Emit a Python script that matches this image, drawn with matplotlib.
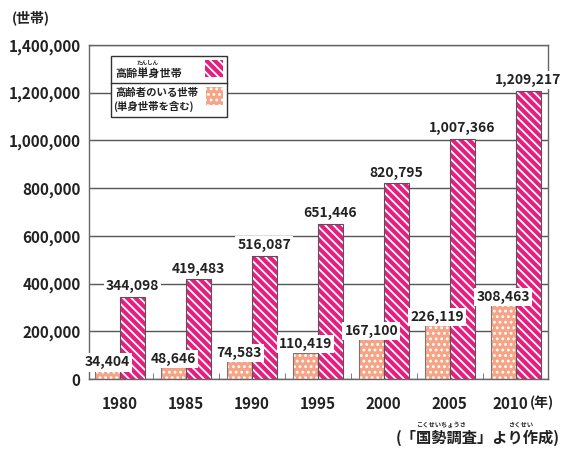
import matplotlib
matplotlib.use('Agg')
import matplotlib.pyplot as plt
import matplotlib.transforms as mtransforms
from matplotlib.patches import Rectangle
import numpy as np

years = ['1980', '1985', '1990', '1995', '2000', '2005', '2010']
single_households = [344098, 419483, 516087, 651446, 820795, 1007366, 1209217]
elderly_households = [34404, 48646, 74583, 110419, 167100, 226119, 308463]
yticks = [0, 200000, 400000, 600000, 800000, 1000000, 1200000, 1400000]
ytick_labels = ['0', '200,000', '400,000', '600,000', '800,000', '1,000,000', '1,200,000', '1,400,000']

PINK = '#E61E80'
ORANGE = '#F7A385'
FONT = ['Noto Sans CJK JP', 'DejaVu Sans']
TXT = '#222222'

plt.rcParams['font.family'] = FONT
plt.rcParams['hatch.linewidth'] = 1.3

STRIPES = '\\\\\\\\'
DOTS = '...'

W, H = 562, 450
fig = plt.figure(figsize=(W / 100, H / 100), dpi=100)
ax = fig.add_axes([89 / W, 1 - 379 / H, (548 - 89) / W, (379 - 45) / H])

x = np.arange(len(years))
w = 0.38
ax.bar(x - w / 2, elderly_households, w, color=ORANGE, edgecolor='white', hatch=DOTS, linewidth=0, zorder=2)
ax.bar(x - w / 2, elderly_households, w, fill=False, edgecolor='#777777', linewidth=0.8, zorder=3)
ax.bar(x + w / 2, single_households, w, color=PINK, edgecolor='white', hatch=STRIPES, linewidth=0, zorder=2)
ax.bar(x + w / 2, single_households, w, fill=False, edgecolor='#555555', linewidth=0.8, zorder=3)

for xi, v in zip(x, single_households):
    ax.annotate(f'{v:,}', (xi + w / 2, v), xytext=(0, 7.5), textcoords='offset points',
                ha='center', va='center', fontsize=10, fontweight='bold', color=TXT,
                bbox=dict(facecolor='white', edgecolor='none', pad=1.5), zorder=5)
for xi, v in zip(x, elderly_households):
    ax.annotate(f'{v:,}', (xi - w / 2, v), xytext=(0, 6), textcoords='offset points',
                ha='center', va='center', fontsize=10, fontweight='bold', color=TXT,
                bbox=dict(facecolor='white', edgecolor='none', pad=1.5), zorder=5)

ax.set_xlim(-0.47, 6.49)
ax.set_ylim(0, 1400000)
ax.set_yticks(yticks)
ax.set_yticklabels(ytick_labels, fontsize=11, fontweight='bold', color=TXT)
ax.set_xticks(x)
ax.set_xticklabels(years, fontsize=11, fontweight='bold', color=TXT)
ax.set_xticks(x[:-1] + 0.5, minor=True)
ax.tick_params(axis='x', which='major', length=0, pad=12)
ax.tick_params(axis='x', which='minor', direction='in', length=4, color='#666666')
ax.tick_params(axis='y', direction='in', length=3, color='#666666', pad=6)
ax.yaxis.grid(True, color='#555555', linewidth=1)
ax.set_axisbelow(True)
for s in ax.spines.values():
    s.set_color('#666666')
    s.set_linewidth(1)

# nudge the last year label slightly left, as in the reference
last = ax.get_xticklabels()[-1]
last.set_transform(last.get_transform() + mtransforms.ScaledTranslation(-5 / 100, 0, fig.dpi_scale_trans))

# overlay in pixel coordinates
ov = fig.add_axes([0, 0, 1, 1], zorder=10)
ov.set_xlim(0, W)
ov.set_ylim(H, 0)
ov.axis('off')
ov.patch.set_alpha(0)

# legend
ov.add_patch(Rectangle((111, 56), 116, 61, facecolor='white', edgecolor='#333333', linewidth=1))
ov.plot([111, 227], [83, 83], color='#333333', linewidth=1)
ov.add_patch(Rectangle((205, 60), 18, 17, facecolor=PINK, edgecolor='white', hatch=STRIPES, linewidth=0))
ov.add_patch(Rectangle((206, 87), 17, 18, facecolor=ORANGE, edgecolor='white', hatch=DOTS, linewidth=0))
ov.text(115, 73, '高齢単身世帯', fontsize=8, fontweight='bold', ha='left', va='center', color=TXT)
ov.text(148, 63, 'たんしん', fontsize=4, fontweight='bold', ha='center', va='center', color=TXT)
ov.text(115, 93, '高齢者のいる世帯', fontsize=7.5, fontweight='bold', ha='left', va='center', color=TXT)
ov.text(113, 106, '(単身世帯を含む)', fontsize=7.5, fontweight='bold', ha='left', va='center', color=TXT)

# axis unit labels
ov.text(31, 18, '(世帯)', fontsize=10, fontweight='bold', ha='center', va='center', color=TXT)
ov.text(542, 403, '(年)', fontsize=10, fontweight='bold', ha='center', va='center', color=TXT)

# source
ov.text(560, 438, '(「国勢調査」より作成)', fontsize=11, fontweight='bold', ha='right', va='center', color=TXT)
ov.text(441, 424, 'こくせいちょうさ', fontsize=4.5, fontweight='bold', ha='center', va='center', color=TXT)
ov.text(521, 424, 'さくせい', fontsize=4.5, fontweight='bold', ha='center', va='center', color=TXT)

fig.savefig('out.png', dpi=100)
